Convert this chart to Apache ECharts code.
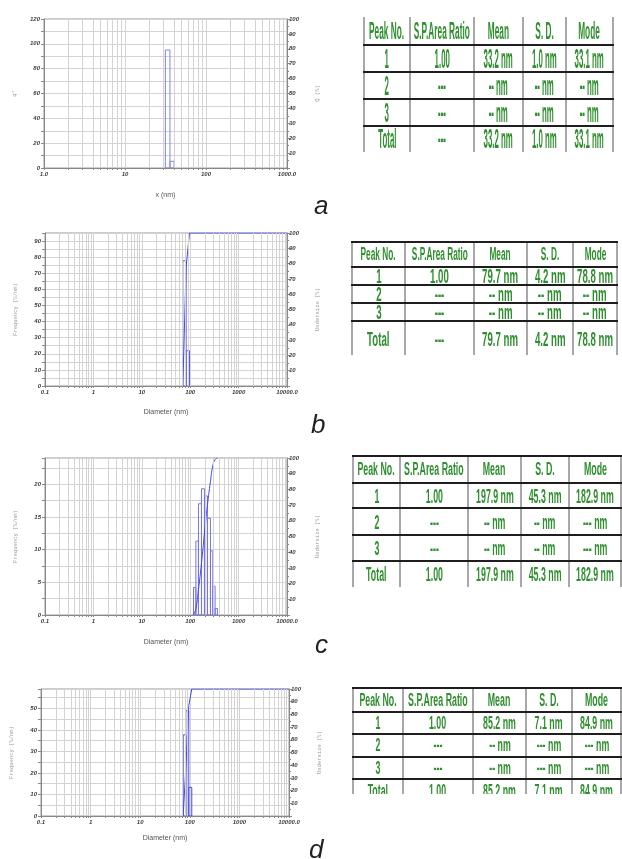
<!DOCTYPE html>
<html>
<head>
<meta charset="utf-8">
<title>Particle size distribution a-d</title>
<script src="https://cdn.jsdelivr.net/npm/echarts@6/dist/echarts.min.js"></script>
<style>
    body { margin: 0; background: #fff; }
    #wrap { position: relative; width: 622px; height: 859px; overflow: hidden; background: #fff; }
    #chart { position: absolute; left: 0; top: 0; width: 622px; height: 859px; }
    .tbl { position: absolute; left: 0; top: 0; width: 622px; overflow: hidden; }
    .ln { position: absolute; }
    .cell { position: absolute; display: flex; align-items: center; justify-content: center; white-space: nowrap;
            color: #2f8f2f; font-family: 'Liberation Sans', Arial, sans-serif; font-weight: bold; }
    .cell span { display: inline-block; }
    .tag { position: absolute; font: italic 26px/26px 'Liberation Sans', Arial, sans-serif; color: #222; }
</style>
</head>
<body>
<div id="wrap">
    <div id="chart"></div>
</div>
<script>
    // ---- data ----
    // a
    const edgesA = [31.5, 35.9, 40.3];
    const freqA = [95, 5.4];
    const cumXA = [];
    const cumYA = [];
    // b
    const edgesB = [70.4, 82.4, 96.6];
    const freqB = [77.8, 21.9];
    const cumXB = [70.4, 82.4, 96.6, 10000];
    const cumYB = [0, 78, 100, 100];
    // c
    const edgesC = [117, 131, 148, 171, 197, 227, 262, 293, 327, 365];
    const freqC = [4.2, 11.3, 17.0, 19.3, 18.2, 14.8, 9.8, 4.4, 1.0];
    const cumXC = [117, 131, 148, 171, 197, 227, 262, 293, 327, 365];
    const cumYC = [0, 4, 16, 33, 52, 70, 85, 95, 99, 100];
    // d
    const edgesD = [73.5, 83.2, 95.5, 109.6];
    const freqD = [37.7, 48.9, 13.3];
    const cumXD = [73.5, 83.2, 95.5, 109.6, 10000];
    const cumYD = [0, 38, 87, 100, 100];

    const xLabelsA = ['1.0', '10', '100', '1000.0'];
    const xLabelsB = ['0.1', '1', '10', '100', '1000', '10000.0'];

    const tableHead = ['Peak No.', 'S.P.Area Ratio', 'Mean', 'S. D.', 'Mode'];
    const rowsA = [
        ['1', '1.00', '33.2 nm', '1.0 nm', '33.1 nm'],
        ['2', '---', '-- nm', '-- nm', '-- nm'],
        ['3', '---', '-- nm', '-- nm', '-- nm'],
        ['Total', '---', '33.2 nm', '1.0 nm', '33.1 nm']
    ];
    const rowsB = [
        ['1', '1.00', '79.7 nm', '4.2 nm', '78.8 nm'],
        ['2', '---', '-- nm', '-- nm', '-- nm'],
        ['3', '---', '-- nm', '-- nm', '-- nm'],
        ['Total', '---', '79.7 nm', '4.2 nm', '78.8 nm']
    ];
    const rowsC = [
        ['1', '1.00', '197.9 nm', '45.3 nm', '182.9 nm'],
        ['2', '---', '-- nm', '-- nm', '--- nm'],
        ['3', '---', '-- nm', '-- nm', '--- nm'],
        ['Total', '1.00', '197.9 nm', '45.3 nm', '182.9 nm']
    ];
    const rowsD = [
        ['1', '1.00', '85.2 nm', '7.1 nm', '84.9 nm'],
        ['2', '---', '-- nm', '--- nm', '--- nm'],
        ['3', '---', '-- nm', '--- nm', '--- nm'],
        ['Total', '1.00', '85.2 nm', '7.1 nm', '84.9 nm']
    ];
    const panelTags = ['a', 'b', 'c', 'd'];

    // ---- layout ----
    const panels = [
        {edges: edgesA, freq: freqA, cumX: cumXA, cumY: cumYA, smooth: false,
            xMin: 1, xMax: 1000, xLabels: xLabelsA, yMax: 120, yStep: 10, yLabelStep: 20,
            yName: 'q*', y2Name: 'Q (%)', xName: 'x (nm)', xNameGap: 24, barColor: '#8484ec',
            grid: {left: 44, top: 19, width: 243, height: 149}},
        {edges: edgesB, freq: freqB, cumX: cumXB, cumY: cumYB, smooth: false,
            xMin: 0.1, xMax: 10000, xLabels: xLabelsB, yMax: 95, yStep: 5, yLabelStep: 10,
            yName: 'Frequency (%/nm)', y2Name: 'Undersize (%)', xName: 'Diameter (nm)', xNameGap: 23, barColor: '#5a5ae4',
            grid: {left: 45, top: 233, width: 242, height: 153}},
        {edges: edgesC, freq: freqC, cumX: cumXC, cumY: cumYC, smooth: true,
            xMin: 0.1, xMax: 10000, xLabels: xLabelsB, yMax: 24, yStep: 2.5, yLabelStep: 5,
            yName: 'Frequency (%/nm)', y2Name: 'Undersize (%)', xName: 'Diameter (nm)', xNameGap: 24, barColor: '#7474ea',
            grid: {left: 45, top: 458, width: 242, height: 157}},
        {edges: edgesD, freq: freqD, cumX: cumXD, cumY: cumYD, smooth: false,
            xMin: 0.1, xMax: 10000, xLabels: xLabelsB, yMax: 59, yStep: 5, yLabelStep: 10,
            yName: 'Frequency (%/nm)', y2Name: 'Undersize (%)', xName: 'Diameter (nm)', xNameGap: 19, barColor: '#4a4ae2',
            grid: {left: 41, top: 689, width: 248, height: 127}}
    ];

    const tables = [
        {rows: rowsA, cols: [364, 410, 474, 523, 566, 613], hLines: [45, 72, 99, 126],
            vTop: 17, vBottom: 152, centers: [31, 58.5, 85.5, 112.5, 139],
            headFs: 23, headSx: 0.36, bodyFs: 28, bodySx: 0.28, clipBottom: 859},
        {rows: rowsB, cols: [352, 405, 474, 527, 573, 617], hLines: [242, 267, 285, 303, 321],
            vTop: 242, vBottom: 355, centers: [254.5, 276, 294, 312, 339],
            headFs: 18, headSx: 0.46, bodyFs: 21, bodySx: 0.46, clipBottom: 859},
        {rows: rowsC, cols: [353, 400, 468, 521, 569, 621], hLines: [456, 483, 508, 535, 561],
            vTop: 456, vBottom: 587, centers: [469.5, 495.5, 521.5, 548, 574],
            headFs: 18, headSx: 0.49, bodyFs: 21, bodySx: 0.42, clipBottom: 859},
        {rows: rowsD, cols: [353, 403, 473, 526, 572, 621], hLines: [688, 712, 734, 757, 779],
            vTop: 688, vBottom: 794, centers: [700, 723, 745.5, 768, 791],
            headFs: 18, headSx: 0.49, bodyFs: 18, bodySx: 0.49, clipBottom: 794}
    ];
    const tagPos = [[314, 192], [311, 411], [315, 631], [309, 836]];

    const labelFont = {fontSize: 6, fontStyle: 'italic', fontWeight: 'bold', fontFamily: 'Liberation Sans', color: '#3a3a3a'};
    const monoName = {fontSize: 5.5, fontFamily: 'Liberation Mono', color: '#9a9a9a'};
    const lineColor = '#4646ea';
    const gridColor = '#d3d3d3';

    function minorLines(min, max) {
        let out = [];
        for (let d = min; d < max * 0.999; d *= 10) {
            for (let k = 2; k <= 9; k++) out.push(+(d * k).toPrecision(3));
        }
        return out;
    }

    let grid = [], xAxis = [], yAxis = [], series = [];
    panels.forEach(function (p, i) {
        grid.push(Object.assign({show: true, borderColor: '#9a9a9a', borderWidth: 1}, p.grid));
        xAxis.push({
            type: 'log', logBase: 10, gridIndex: i, min: p.xMin, max: p.xMax,
            name: p.xName, nameLocation: 'middle', nameGap: p.xNameGap,
            nameTextStyle: {fontSize: 7, fontFamily: 'Liberation Sans', color: '#555'},
            axisLine: {lineStyle: {color: '#888'}},
            axisTick: {show: true, length: 2, lineStyle: {color: '#888'}},
            minorTick: {show: true, splitNumber: 9, length: 2, lineStyle: {color: '#888'}},
            axisLabel: Object.assign({margin: 3, formatter: function (v, idx) { return p.xLabels[idx]; }}, labelFont),
            splitLine: {show: true, lineStyle: {color: gridColor}}
        });
        yAxis.push({
            type: 'value', gridIndex: i, min: 0, max: p.yMax, interval: p.yStep,
            name: p.yName, nameLocation: 'middle', nameGap: 26, nameTextStyle: monoName,
            axisLine: {show: true, lineStyle: {color: '#888'}},
            axisTick: {show: true, length: 3, lineStyle: {color: '#888'}},
            axisLabel: Object.assign({margin: 4, formatter: function (v) {
                let r = v / p.yLabelStep;
                return Math.abs(r - Math.round(r)) < 1e-6 ? String(v) : '';
            }}, labelFont),
            splitLine: {show: true, lineStyle: {color: gridColor}}
        });
        yAxis.push({
            type: 'value', gridIndex: i, position: 'right', min: 0, max: 100, interval: 10,
            name: p.y2Name, nameLocation: 'middle', nameGap: 28, nameTextStyle: monoName,
            axisLine: {show: true, lineStyle: {color: '#888'}},
            axisTick: {show: true, length: 3, lineStyle: {color: '#888'}},
            minorTick: {show: true, splitNumber: 2, length: 2, lineStyle: {color: '#888'}},
            axisLabel: Object.assign({margin: 2, formatter: function (v) { return v === 0 ? '' : String(v); }}, labelFont),
            splitLine: {show: false}
        });
        // minor log grid lines
        series.push({
            type: 'line', xAxisIndex: i, yAxisIndex: 2 * i, data: [], silent: true, z: 1,
            markLine: {
                silent: true, symbol: ['none', 'none'], label: {show: false},
                lineStyle: {color: gridColor, type: 'solid', width: 1},
                data: minorLines(p.xMin, p.xMax).map(function (v) { return {xAxis: v}; })
            }
        });
        // histogram bins (outlined)
        let bins = p.freq.map(function (h, k) { return [p.edges[k], p.edges[k + 1], h]; });
        series.push({
            type: 'custom', xAxisIndex: i, yAxisIndex: 2 * i, z: 3, clip: true,
            encode: {x: [0, 1], y: 2},
            data: bins,
            renderItem: function (params, api) {
                let p0 = api.coord([api.value(0), 0]);
                let p1 = api.coord([api.value(1), api.value(2)]);
                return {
                    type: 'rect',
                    shape: {x: p0[0], y: p1[1], width: p1[0] - p0[0], height: p0[1] - p1[1]},
                    style: {fill: 'none', stroke: p.barColor, lineWidth: 1}
                };
            }
        });
        // cumulative undersize
        series.push({
            type: 'line', xAxisIndex: i, yAxisIndex: 2 * i + 1, z: 4,
            showSymbol: false, smooth: p.smooth, clip: true,
            lineStyle: {color: lineColor, width: 1},
            data: p.cumX.map(function (x, k) { return [x, p.cumY[k]]; })
        });
    });

    const chart = echarts.init(document.getElementById('chart'), null, {renderer: 'canvas'});
    chart.setOption({
        animation: false,
        backgroundColor: '#fff',
        grid: grid,
        xAxis: xAxis,
        yAxis: yAxis,
        series: series
    });

    // ---- result tables ----
    const wrap = document.getElementById('wrap');
    function addDiv(parent, cls, css) {
        let el = document.createElement('div');
        el.className = cls;
        Object.assign(el.style, css);
        parent.appendChild(el);
        return el;
    }
    tables.forEach(function (t) {
        let box = addDiv(wrap, 'tbl', {height: t.clipBottom + 'px'});
        let c = t.cols;
        c.forEach(function (x) {
            addDiv(box, 'ln', {left: (x - 1) + 'px', top: t.vTop + 'px', width: '2px',
                height: (t.vBottom - t.vTop) + 'px', background: '#a8a8a8'});
        });
        t.hLines.forEach(function (y) {
            addDiv(box, 'ln', {left: (c[0] - 1) + 'px', top: (y - 1) + 'px', width: (c[c.length - 1] - c[0] + 2) + 'px',
                height: '2px', background: '#1e1e1e'});
        });
        [tableHead].concat(t.rows).forEach(function (row, r) {
            let fs = r === 0 ? t.headFs : t.bodyFs;
            let sx = r === 0 ? t.headSx : t.bodySx;
            row.forEach(function (txt, k) {
                let cell = addDiv(box, 'cell', {left: c[k] + 'px', width: (c[k + 1] - c[k]) + 'px',
                    top: (t.centers[r] - 20) + 'px', height: '40px', fontSize: fs + 'px'});
                let s = document.createElement('span');
                s.textContent = txt;
                s.style.transform = 'scaleX(' + sx + ')';
                cell.appendChild(s);
            });
        });
    });
    panelTags.forEach(function (tag, i) {
        let el = addDiv(wrap, 'tag', {left: tagPos[i][0] + 'px', top: tagPos[i][1] + 'px'});
        el.textContent = tag;
    });

    window.onresize = function () {
        chart.resize();
    };
</script>
</body>
</html>
